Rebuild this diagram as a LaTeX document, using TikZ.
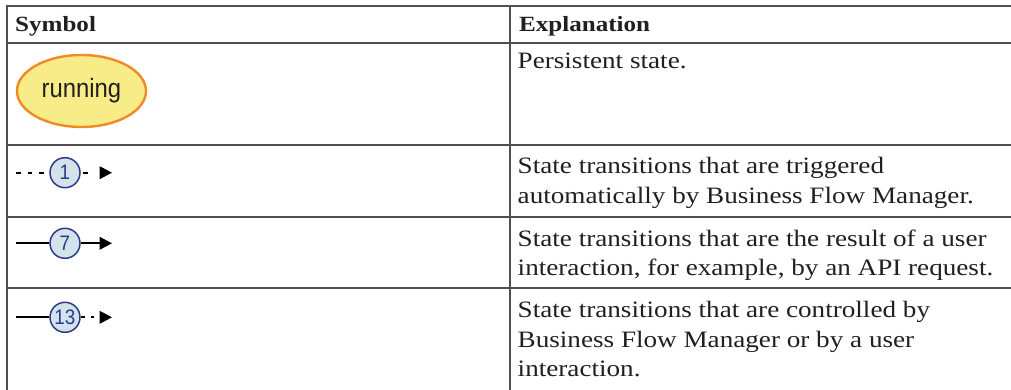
\documentclass[tikz,border=0pt]{standalone}
\usepackage{fontspec}
\setmainfont{Liberation Serif}[FakeStretch=1.155]
\newfontfamily\diagsans{Liberation Sans}[FakeStretch=0.9]
\usetikzlibrary{shapes.geometric,arrows.meta}

\definecolor{rulegray}{HTML}{505050}
\definecolor{bodytext}{HTML}{231F20}
\definecolor{stateyellow}{HTML}{F7EC87}
\definecolor{stateorange}{HTML}{F08A24}
\definecolor{badgefill}{HTML}{D3E3EC}
\definecolor{badgeblue}{HTML}{2E3A8C}

\tikzset{
  tablerule/.style={draw=rulegray, line width=2pt},
  headtext/.style={inner sep=0pt, anchor=base west, text=bodytext,
    font=\bfseries\fontsize{21.7}{26}\selectfont},
  % multi-line cells are placed by the baseline of their last line
  celltext/.style={inner sep=0pt, anchor=base west, align=left, text=bodytext,
    font=\fontsize{23.5}{29.5}\selectfont},
  statenode/.style={ellipse, minimum width=129pt, minimum height=72pt, inner sep=0pt,
    fill=stateyellow, draw=stateorange, line width=2.4pt, text=bodytext,
    font=\diagsans\fontsize{26.5}{30}\selectfont},
  badge/.style={circle, minimum size=30pt, inner sep=0pt, fill=badgefill,
    draw=badgeblue, line width=1.5pt, text=badgeblue,
    font=\diagsans\fontsize{21}{24}\selectfont},
  trans/.style={draw=black, line width=1.8pt},
  tip/.style={-{Triangle[length=12.5pt,width=12.7pt]}},
}

\begin{document}
\begin{tikzpicture}[x=1pt,y=-1pt]
  \useasboundingbox (0,0) rectangle (1011,390);

  % table rules
  \draw[tablerule] (7.3,5.7) -- (1011,5.7);
  \draw[tablerule] (7.3,43.3) -- (1011,43.3);
  \draw[tablerule] (7.3,144.7) -- (1011,144.7);
  \draw[tablerule] (7.3,216.7) -- (1011,216.7);
  \draw[tablerule] (7.3,288.3) -- (1011,288.3);
  \draw[tablerule] (7.3,4.7) -- (7.3,390);
  \draw[tablerule] (509.7,4.7) -- (509.7,390);

  % header
  \node[headtext] (hsym) at (15,31.7) {Symbol};
  \node[headtext] (hexp) at (519,31.7) {Explanation};

  % persistent state
  \node[statenode] (running) at (81.5,91) {running};
  \node[celltext] (exp1) at (517.5,68.3) {Persistent state.};

  % automatic transition
  \coordinate (a0) at (16,172.7);
  \coordinate (a1) at (112,172.7);
  \node[badge] (b1) at (65,172.7) {1};
  \draw[trans, dash pattern=on 4.5pt off 7pt] (a0) -- (b1.west);
  \draw[trans, tip, dash pattern=on 0pt off 2.7pt on 5pt off 30pt] (b1.east) -- (a1);
  \node[celltext] (exp2) at (517.5,203.3)
    {State transitions that are triggered\\automatically by Business Flow Manager.};

  % user transition
  \coordinate (u0) at (16,243.3);
  \coordinate (u1) at (112,243.3);
  \node[badge] (b7) at (65,243.3) {7};
  \draw[trans] (u0) -- (b7.west);
  \draw[trans, tip] (b7.east) -- (u1);
  \node[celltext] (exp3) at (517.5,275.5)
    {State transitions that are the result of a user\\interaction, for example, by an API request.};

  % controlled transition
  \coordinate (c0) at (16,317.3);
  \coordinate (c1) at (112,317.3);
  \node[badge] (b13) at (65,317.3) {13};
  \draw[trans] (c0) -- (b13.west);
  \draw[trans, tip, dash pattern=on 0pt off 0.7pt on 3.3pt off 6.4pt on 2.6pt off 30pt] (b13.east) -- (c1);
  \node[celltext] (exp4) at (517.5,376.5)
    {State transitions that are controlled by\\Business Flow Manager or by a user\\interaction.};
\end{tikzpicture}
\end{document}
